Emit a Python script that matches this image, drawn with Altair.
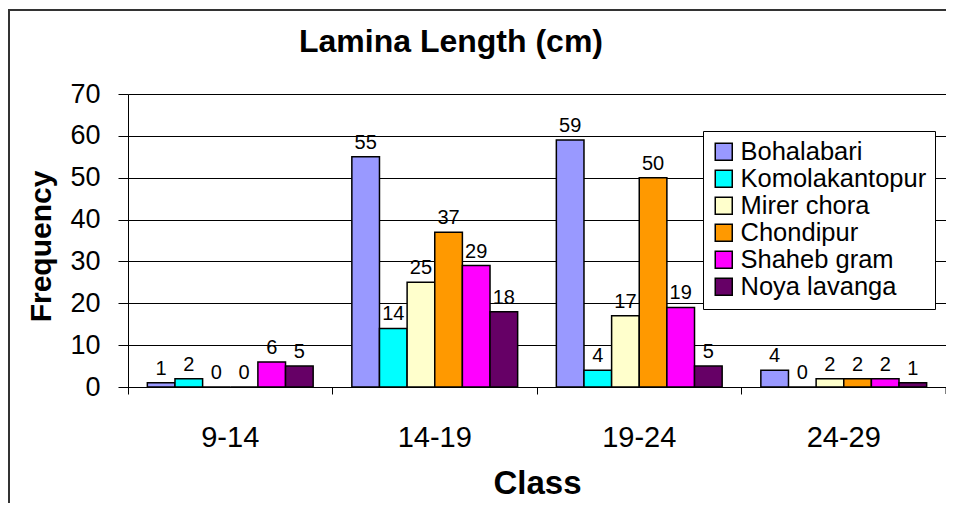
import altair as alt
import pandas as pd

classes = ["9-14", "14-19", "19-24", "24-29"]
series = ["Bohalabari", "Komolakantopur", "Mirer chora", "Chondipur", "Shaheb gram", "Noya lavanga"]
colors = ["#9999FF", "#00FFFF", "#FFFFCC", "#FF9900", "#FF00FF", "#660066"]
values = {
    "Bohalabari":     [1, 55, 59, 4],
    "Komolakantopur": [2, 14, 4, 0],
    "Mirer chora":    [0, 25, 17, 2],
    "Chondipur":      [0, 37, 50, 2],
    "Shaheb gram":    [6, 29, 19, 2],
    "Noya lavanga":   [5, 18, 5, 1],
}

rows = []
for s in series:
    for c, v in zip(classes, values[s]):
        rows.append({"Class": c, "Series": s, "Frequency": v})
df = pd.DataFrame(rows)

FONT = "Liberation Sans, Arial, sans-serif"
W, H = 818, 293

base = alt.Chart(df).encode(
    x=alt.X("Class:N", sort=classes,
            scale=alt.Scale(paddingInner=0, paddingOuter=0),
            axis=alt.Axis(title="Class", labelAngle=0, bandPosition=0,
                          tickSize=7, labelPadding=29, labelFontSize=29,
                          labelFont=FONT, titleFont=FONT, titleFontSize=33,
                          titleFontWeight="bold", titleY=80, titleX=W / 2,
                          grid=False, domainColor="black", tickColor="black",
                          labelColor="black", titleColor="black")),
    xOffset=alt.XOffset("Series:N", sort=series,
                        scale=alt.Scale(paddingInner=0, paddingOuter=0.7)),
    y=alt.Y("Frequency:Q",
            scale=alt.Scale(domain=[0, 70], nice=False),
            axis=alt.Axis(title="Frequency", values=list(range(0, 71, 10)),
                          tickSize=10, labelPadding=18, labelFontSize=27,
                          labelFont=FONT, titleFont=FONT, titleFontSize=30,
                          titleFontWeight="bold", titleAngle=-90,
                          titleX=-72, titleY=152, titleAlign="center",
                          titleBaseline="bottom",
                          grid=True, gridColor="black", gridWidth=1,
                          domainColor="black", tickColor="black",
                          labelColor="black", titleColor="black")),
)

bars = base.mark_bar(stroke="black", strokeWidth=1.5).encode(
    color=alt.Color("Series:N", sort=series,
                    scale=alt.Scale(domain=series, range=colors),
                    legend=alt.Legend(title=None, orient="none", legendX=575, legendY=37,
                                      fillColor="white", strokeColor="black",
                                      padding=8, symbolType="square", symbolSize=289,
                                      symbolStrokeColor="black", symbolStrokeWidth=1.5,
                                      labelFontSize=25.5, labelFont=FONT, labelColor="black",
                                      labelLimit=0, rowPadding=-0.5, labelOffset=4)),
)

labels = base.mark_text(baseline="bottom", dy=-4, fontSize=20, font=FONT, color="black").encode(
    text=alt.Text("Frequency:Q"),
)

end_tick = alt.Chart(pd.DataFrame({"a": [0]})).mark_rule(color="black", strokeWidth=1).encode(
    x=alt.value(W), y=alt.value(H), y2=alt.value(H + 7)
)

frame = alt.Chart(pd.DataFrame({"a": [0]})).mark_rect(
    fill=None, stroke="#333333", strokeWidth=2, clip=False
).encode(
    x=alt.value(-119), x2=alt.value(1200), y=alt.value(-84), y2=alt.value(700)
)

chart = alt.layer(frame, bars, labels, end_tick).properties(
    width=W, height=H,
    title=alt.TitleParams("Lamina Length (cm)", font=FONT, fontSize=32, fontWeight="bold",
                          color="black", anchor="middle", dx=-86, dy=80, offset=30),
    autosize=alt.AutoSizeParams(type="none"),
    padding={"left": 120, "top": 86, "right": 0, "bottom": 116},
).configure_view(
    fill="#C0C0C0", stroke="#808080", strokeWidth=1.5
).configure(background="white")

chart.save("out.html", embed_options={"renderer": "svg", "actions": False})
